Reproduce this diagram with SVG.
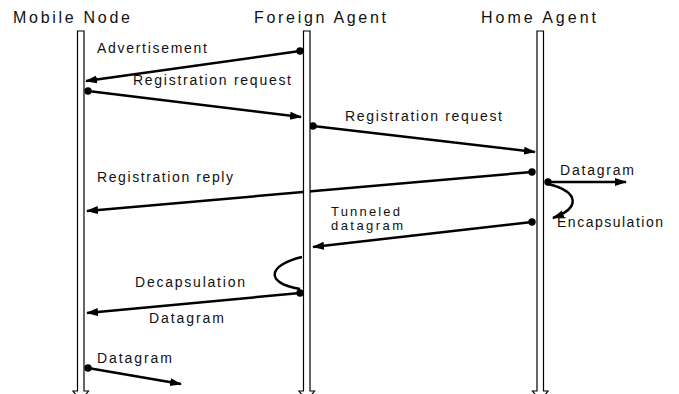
<svg xmlns="http://www.w3.org/2000/svg" width="679" height="394" viewBox="0 0 679 394">
<style>
.hdr{font-family:"Liberation Sans",Arial,sans-serif;font-size:16px;fill:#111}
.lbl{font-family:"Liberation Sans",Arial,sans-serif;font-size:14px;fill:#111}
.msg{fill:none;stroke:#000;stroke-width:2.5;marker-end:url(#arr)}
.dotted{marker-start:url(#dot)}
.life{fill:#fff;stroke:#000;stroke-width:1.2}
</style>
<defs>
<marker id="arr" markerUnits="userSpaceOnUse" markerWidth="13" markerHeight="9" refX="11" refY="4" orient="auto">
<path d="M0,0 L12,4 L0,8 z" fill="#000"/>
</marker>
<marker id="dot" markerUnits="userSpaceOnUse" markerWidth="8" markerHeight="8" refX="4" refY="4">
<circle cx="4" cy="4" r="3.7" fill="#000"/>
</marker>
</defs>
<rect width="679" height="394" fill="#fff"/>
<g id="connectors">
<line class="msg dotted" x1="300" y1="51" x2="86" y2="81"/>
<line class="msg dotted" x1="88" y1="91" x2="301" y2="117"/>
<line class="msg dotted" x1="313" y1="126" x2="535" y2="152"/>
<line class="msg dotted" x1="532" y1="172" x2="87" y2="211"/>
<line class="msg dotted" x1="548" y1="182" x2="626" y2="182"/>
<path class="msg" d="M548,184 C580,192 580,208 553,218"/>
<line class="msg dotted" x1="532" y1="222" x2="313" y2="247"/>
<path d="M302,257 C268,265 264,283 300,289" fill="none" stroke="#000" stroke-width="2.5"/>
<line class="msg dotted" x1="300" y1="293" x2="87" y2="313"/>
<line class="msg dotted" x1="88" y1="368" x2="181" y2="384"/>
</g>
<g id="mobile-node">
<path class="life" d="M77.5,31 H84 V391 H88.5 L80.75,401 L73,391 H77.5 Z"/>
<text class="hdr" x="13" y="23" textLength="117" lengthAdjust="spacing">Mobile Node</text>
</g>
<g id="foreign-agent">
<path class="life" d="M303.5,31 H310 V391 H314.5 L306.75,401 L299,391 H303.5 Z"/>
<text class="hdr" x="254" y="23" textLength="132" lengthAdjust="spacing">Foreign Agent</text>
</g>
<g id="home-agent">
<path class="life" d="M537,31 H543.5 V391 H548 L540.25,401 L532.5,391 H537 Z"/>
<text class="hdr" x="481" y="23" textLength="115" lengthAdjust="spacing">Home Agent</text>
</g>
<g id="labels">
<text class="lbl" x="97" y="53" textLength="110" lengthAdjust="spacing">Advertisement</text>
<text class="lbl" x="133" y="85" textLength="158" lengthAdjust="spacing">Registration request</text>
<text class="lbl" x="345" y="121" textLength="157" lengthAdjust="spacing">Registration request</text>
<text class="lbl" x="97" y="182" textLength="136" lengthAdjust="spacing">Registration reply</text>
<text class="lbl" x="560" y="175" textLength="74" lengthAdjust="spacing">Datagram</text>
<text class="lbl" x="557" y="227" textLength="106" lengthAdjust="spacing">Encapsulation</text>
<text class="lbl" x="331" y="216" textLength="69" lengthAdjust="spacing" style="font-size:13px">Tunneled</text>
<text class="lbl" x="331" y="230" textLength="72" lengthAdjust="spacing" style="font-size:13px">datagram</text>
<text class="lbl" x="135" y="287" textLength="110" lengthAdjust="spacing">Decapsulation</text>
<text class="lbl" x="149" y="323" textLength="75" lengthAdjust="spacing">Datagram</text>
<text class="lbl" x="97" y="363" textLength="75" lengthAdjust="spacing">Datagram</text>
</g>
</svg>
